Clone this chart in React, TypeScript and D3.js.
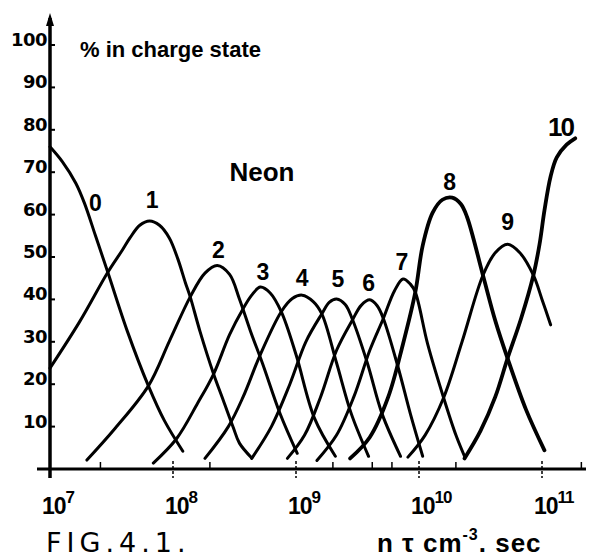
import React from "react";
import * as d3 from "d3";

// x values are log10(n·tau), y values are % in charge state
const decades = [7, 8, 9, 10, 11];
const minorTicks = [7.41, 8.3, 9.3, 9.62, 9.78, 10.3, 11.32];
const yTicks = [10, 20, 30, 40, 50, 60, 70, 80, 90, 100];

const state0 = [[7.0, 76], [7.1, 72.5], [7.21, 67.4], [7.28, 62.7], [7.37, 55], [7.47, 46.4], [7.63, 32.4], [7.8, 19.6], [7.93, 11.4], [8.08, 4.2]];
const state1 = [[7.0, 23.8], [7.24, 34.7], [7.47, 46.4], [7.59, 51.7], [7.65, 54.5], [7.73, 57.5], [7.81, 58.5], [7.89, 57.5], [7.97, 54.5], [8.04, 49.5], [8.1, 44], [8.14, 40.6], [8.22, 32.4], [8.33, 22.4], [8.41, 16.1], [8.49, 9.8], [8.54, 6.1], [8.64, 2.6]];
const state2 = [[7.3, 2.1], [7.53, 9.6], [7.8, 19.6], [7.97, 30.1], [8.14, 40.6], [8.26, 46.2], [8.36, 48.0], [8.46, 45.9], [8.54, 40.1], [8.63, 32.5], [8.73, 24.7], [8.87, 13.1], [9.01, 3.7]];
const state3 = [[7.84, 1.4], [8.03, 7.2], [8.2, 15.5], [8.33, 22.4], [8.46, 31.7], [8.57, 37.8], [8.64, 41], [8.71, 42.9], [8.79, 41.5], [8.88, 37.1], [9.0, 27], [9.15, 12], [9.32, 3]];
const state4 = [[8.26, 2.5], [8.45, 10], [8.57, 17], [8.71, 27], [8.88, 37.1], [8.97, 40.2], [9.05, 41], [9.14, 39.5], [9.21, 36.6], [9.33, 25], [9.45, 13], [9.59, 3]];
const state5 = [[8.64, 2.5], [8.8, 10], [8.95, 20], [9.08, 30], [9.21, 36.6], [9.27, 39.3], [9.33, 40.1], [9.4, 38.8], [9.46, 35.2], [9.58, 25], [9.7, 13], [9.85, 3]];
const state6 = [[8.93, 2.5], [9.07, 8], [9.2, 17], [9.33, 28], [9.46, 35.2], [9.53, 38.6], [9.6, 39.9], [9.66, 38.5], [9.71, 35.5], [9.83, 24], [9.93, 13], [10.03, 3]];
const state7 = [[9.17, 2], [9.33, 8], [9.47, 17], [9.6, 28], [9.71, 35.5], [9.8, 42], [9.87, 44.8], [9.93, 43.6], [9.97, 41.7], [10.07, 29.5], [10.2, 16.8], [10.3, 8], [10.37, 3]];
const state8 = [[9.44, 2.5], [9.6, 7.5], [9.75, 17], [9.87, 29.5], [9.97, 41.7], [10.03, 52.7], [10.11, 60.4], [10.19, 63.5], [10.27, 64], [10.34, 62.5], [10.39, 59.5], [10.52, 45.7], [10.62, 35], [10.72, 26.1], [10.87, 14], [11.02, 4.4]];
const state9 = [[9.91, 2.8], [10.05, 8], [10.2, 16.8], [10.35, 30], [10.52, 45.7], [10.62, 51], [10.72, 53], [10.82, 51], [10.93, 45.7], [11.0, 40], [11.07, 34]];
const state10 = [[10.37, 2.5], [10.5, 9], [10.62, 17], [10.72, 26.1], [10.83, 35.5], [10.93, 45.7], [10.98, 53], [11.02, 61], [11.07, 69], [11.12, 73.5], [11.2, 76.5], [11.27, 78]];

const chargeLabels = ["0", "1", "2", "3", "4", "5", "6", "7", "8", "9", "10"];
const labelLogN = [7.37, 7.83, 8.37, 8.73, 9.05, 9.34, 9.59, 9.86, 10.25, 10.72, 11.15];
const labelPct = [62.7, 63.4, 51.7, 46.5, 45.0, 44.8, 43.9, 48.8, 67.7, 58.3, 80.7];

const states = [state0, state1, state2, state3, state4, state5, state6, state7, state8, state9, state10];

const App = () => {
  const x = d3.scaleLog().domain([1e7, 1e11]).range([50, 542]);
  const y = d3.scaleLinear().domain([0, 100]).range([469, 45]);
  const line = d3
    .line<number[]>()
    .x((d) => x(10 ** d[0]))
    .y((d) => y(d[1]))
    .curve(d3.curveCatmullRom.alpha(0.5));

  const bold = "'Liberation Sans', Arial, sans-serif";

  return (
    <svg
      width={590}
      height={559}
      style={{ position: "absolute", left: 0, top: 0, background: "#fff" }}
    >
      {/* axes */}
      <line x1={50} x2={50} y1={18} y2={478} stroke="#000" strokeWidth={3.5} />
      <path d="M46,26 L50,13 L54,26 Z" fill="#000" />
      <line x1={37} x2={586} y1={y(0)} y2={y(0)} stroke="#000" strokeWidth={3} />

      {yTicks.map((t) => (
        <g key={t}>
          <line x1={50} x2={55} y1={y(t)} y2={y(t)} stroke="#000" strokeWidth={2} />
          <text
            x={47}
            y={y(t) + 1}
            textAnchor="end"
            fontFamily="'DejaVu Sans', sans-serif"
            fontWeight="bold"
            fontSize={18}
            letterSpacing={-0.5}
          >
            {t}
          </text>
        </g>
      ))}

      {decades.map((d) => (
        <g key={d}>
          <line
            x1={x(10 ** d)}
            x2={x(10 ** d)}
            y1={y(0) - 8}
            y2={y(0) + 9}
            stroke="#000"
            strokeWidth={1.5}
            strokeDasharray="3,2"
          />
          <text x={x(10 ** d) - 8} y={514} fontFamily={bold} fontWeight="bold" fontSize={23} letterSpacing={-1}>
            10
            <tspan dy={-11} fontSize={17}>
              {d}
            </tspan>
          </text>
        </g>
      ))}
      {minorTicks.map((m, i) => (
        <line
          key={i}
          x1={x(10 ** m)}
          x2={x(10 ** m)}
          y1={y(0) - 7}
          y2={y(0)}
          stroke="#000"
          strokeWidth={1.5}
        />
      ))}

      {/* curves */}
      {states.map((s, i) => (
        <path
          key={i}
          d={line(s) || ""}
          fill="none"
          stroke="#000"
          strokeWidth={i === 8 || i === 10 ? 3.8 : 3}
          strokeLinecap="round"
          strokeLinejoin="round"
        />
      ))}

      {chargeLabels.map((c, i) => (
        <text
          key={c}
          x={x(10 ** labelLogN[i])}
          y={y(labelPct[i])}
          textAnchor="middle"
          dominantBaseline="central"
          fontFamily={bold}
          fontWeight="bold"
          fontSize={i === 10 ? 26 : 23}
          letterSpacing={i === 10 ? -2 : 0}
        >
          {c}
        </text>
      ))}

      {/* titles */}
      <text x={80} y={57} fontFamily={bold} fontWeight="bold" fontSize={22}>
        % in charge state
      </text>
      <text x={262} y={172} textAnchor="middle" dominantBaseline="central" fontFamily={bold} fontWeight="bold" fontSize={26}>
        Neon
      </text>
      <text x={377} y={552} fontFamily={bold} fontWeight="bold" fontSize={26} letterSpacing={1}>
        n τ cm
        <tspan dy={-12} fontSize={16}>
          -3
        </tspan>
        <tspan dy={12}>. sec</tspan>
      </text>
      <text x={46} y={552} fontFamily="'DejaVu Sans', sans-serif" fontSize={27} letterSpacing={5}>
        FIG.4.1.
      </text>
    </svg>
  );
};

export default App;
